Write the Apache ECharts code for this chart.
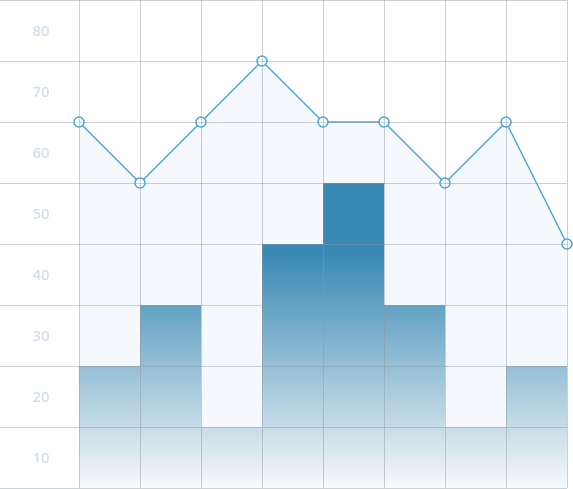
<!DOCTYPE html>
<html>
<head>
<meta charset="utf-8">
<script src="https://cdn.jsdelivr.net/npm/echarts@6/dist/echarts.min.js"></script>
<style>html,body{margin:0;padding:0;background:#fff}#main{width:573px;height:489px}</style>
</head>
<body>
<div id="main"></div>
<script>
var categories = ['1', '2', '3', '4', '5', '6', '7', '8'];
var barValues = [20, 30, 10, 40, 50, 30, 10, 20];
var linePos = [0, 1, 2, 3, 4, 5, 6, 7, 8];
var lineValues = [60, 50, 60, 70, 60, 60, 50, 60, 40];

var chart = echarts.init(document.getElementById('main'));
var gridColor = 'rgba(140,150,160,0.45)';
var linePoints = linePos.map(function (x, i) { return [x, lineValues[i]]; });

var option = {
  animation: false,
  grid: [
    { left: 79, right: 6, top: 0, bottom: 1 },
    { left: 0, width: 79, top: 0, bottom: 1 }
  ],
  xAxis: [
    {
      type: 'category', gridIndex: 0, data: categories, boundaryGap: true, z: 10,
      axisLine: { show: false }, axisTick: { show: false }, axisLabel: { show: false },
      splitLine: { show: true, lineStyle: { color: gridColor } }
    },
    { type: 'value', gridIndex: 0, min: 0, max: 8, show: false },
    { type: 'value', gridIndex: 1, min: 0, max: 1, show: false }
  ],
  yAxis: [
    {
      type: 'value', gridIndex: 0, min: 0, max: 80, interval: 10, z: 10,
      axisLine: { show: false }, axisTick: { show: false }, axisLabel: { show: false },
      splitLine: { lineStyle: { color: gridColor } }
    },
    {
      type: 'value', gridIndex: 1, min: 0, max: 80, interval: 10,
      axisLine: { show: false }, axisTick: { show: false },
      splitLine: { lineStyle: { color: gridColor } },
      axisLabel: {
        inside: true, margin: 41, align: 'center', verticalAlign: 'top',
        padding: [24, 0, 0, 0], showMinLabel: false, showMaxLabel: true,
        color: '#d5dfe9', fontSize: 15, fontWeight: 600, fontFamily: 'Open Sans'
      }
    }
  ],
  series: [
    {
      type: 'line', xAxisIndex: 1, yAxisIndex: 0, z: 1,
      data: linePoints, symbol: 'none',
      lineStyle: { width: 0 },
      areaStyle: { color: '#f5f9fd', opacity: 1 }
    },
    {
      type: 'bar', xAxisIndex: 0, yAxisIndex: 0, z: 2, barWidth: '100%',
      data: barValues,
      itemStyle: {
        color: new echarts.graphic.LinearGradient(0, 0, 0, 488, [
          { offset: 0, color: '#3a89b4' },
          { offset: 0.52, color: '#3a89b4' },
          { offset: 1, color: '#f8f9fa' }
        ], true)
      }
    },
    {
      type: 'line', xAxisIndex: 1, yAxisIndex: 0, z: 5,
      data: linePoints,
      lineStyle: { color: '#4aa5dc', width: 1.5 },
      symbol: 'circle', symbolSize: 10,
      itemStyle: { color: '#fff', borderColor: '#4aa5dc', borderWidth: 1.5 }
    }
  ]
};
chart.setOption(option);
</script>
</body>
</html>
